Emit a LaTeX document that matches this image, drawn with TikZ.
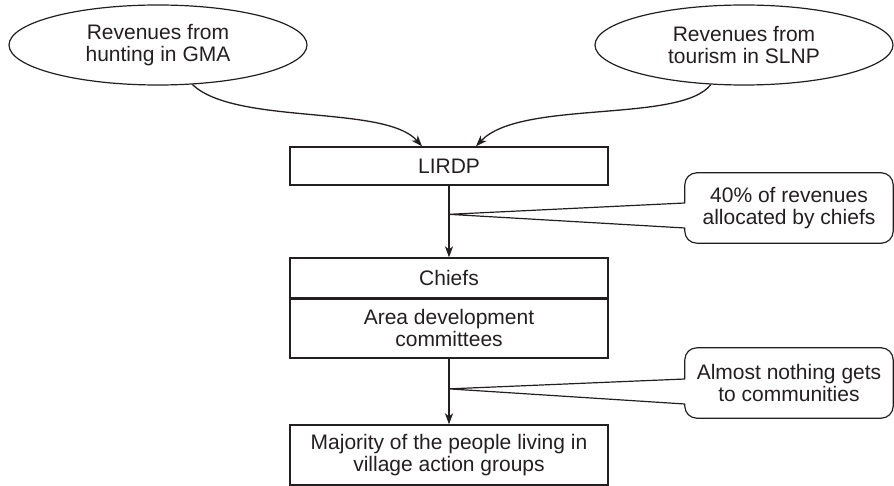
\documentclass[tikz,border=0pt]{standalone}
\usepackage{fontspec}
\setmainfont{Liberation Sans}
\usetikzlibrary{shapes.geometric,arrows.meta,calc}
\definecolor{ink}{RGB}{35,31,32}
\begin{document}
\begin{tikzpicture}[x=1pt,y=-1pt,
  every node/.style={font=\fontsize{21}{22.5}\selectfont, text=ink, align=center},
  box/.style={draw=ink, line width=1.3pt, rectangle, minimum width=318pt, inner sep=0pt},
  source/.style={draw=ink, line width=1.2pt, ellipse, minimum width=298pt, minimum height=80pt, inner sep=0pt},
  flow/.style={draw=ink, line width=1.3pt, -{Stealth[length=11pt,width=8pt,inset=3pt]}},
  note/.style={draw=ink, line width=1.2pt, line join=round}]
  \useasboundingbox (0,0) rectangle (894,486);
  % revenue sources
  \node[source] (hunt) at (158,45) {Revenues from\\hunting in GMA};
  \node[source] (tour) at (744,45) {Revenues from\\tourism in SLNP};
  % boxes
  \node[box, minimum height=38pt] (lirdp) at (449,166) {LIRDP};
  \node[box, minimum height=40pt] (chiefs) at (449,278) {Chiefs};
  \node[box, minimum height=60pt] (adc) at (449,328) {Area development\\committees};
  \node[box, minimum height=60pt] (people) at (449,455) {Majority of the people living in\\village action groups};
  \draw[ink, line width=2.4pt] (chiefs.south west) -- (chiefs.south east);
  % flows
  \draw[flow] (hunt.-49) .. controls +(43,41) and +(-37,-42) .. ([xshift=-27pt]lirdp.north);
  \draw[flow] (tour.-130) .. controls +(-30,39) and +(44,-47) .. ([xshift=27pt]lirdp.north);
  \draw[flow] (lirdp) -- (chiefs);
  \draw[flow] (adc) -- (people);
  % callouts
  \node[minimum width=208pt, minimum height=70pt, inner sep=0pt] (cut) at (789,208) {40\% of revenues\\allocated by chiefs};
  \node[minimum width=208pt, minimum height=70pt, inner sep=0pt] (none) at (789,383) {Almost nothing gets\\to communities};
  \coordinate (cutTip) at ($(lirdp.south)!0.4!(chiefs.north)$);
  \coordinate (noneTip) at ($(adc.south)!0.46!(people.north)$);
  \draw[note] ([yshift=5pt]cut.west) [rounded corners=12pt] -- (cut.north west) -- (cut.north east)
    -- (cut.south east) -- (cut.south west) [sharp corners] -- ([yshift=-20pt]cut.west) -- (cutTip) -- cycle;
  \draw[note] ([yshift=4pt]none.west) [rounded corners=12pt] -- (none.north west) -- (none.north east)
    -- (none.south east) -- (none.south west) [sharp corners] -- ([yshift=-21pt]none.west) -- (noneTip) -- cycle;
\end{tikzpicture}
\end{document}
